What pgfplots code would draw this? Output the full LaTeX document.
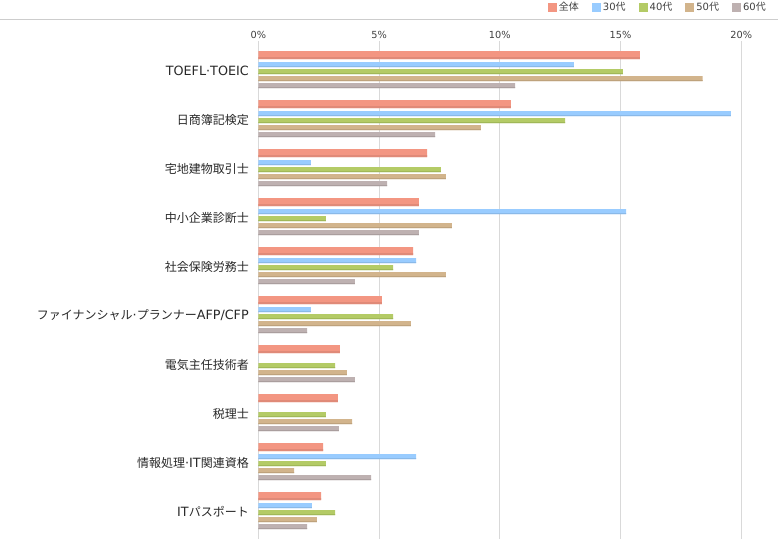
\documentclass[border=0pt]{standalone}
\usepackage{fontspec}
\setmainfont{Noto Sans CJK JP}
\newfontfamily\lat{DejaVu Sans}
\newcommand\lt[1]{{\lat\fontsize{12.75}{14}\selectfont #1}}
\usepackage{pgfplots}
\pgfplotsset{compat=1.18}
\usepackage{pgfplotstable}

\definecolor{cAll}{RGB}{243,150,130}
\definecolor{cAllD}{RGB}{224,138,120}
\definecolor{cA}{RGB}{153,204,255}
\definecolor{cAD}{RGB}{138,185,232}
\definecolor{cB}{RGB}{180,203,102}
\definecolor{cBD}{RGB}{160,184,88}
\definecolor{cC}{RGB}{210,180,140}
\definecolor{cCD}{RGB}{190,162,124}
\definecolor{cD}{RGB}{190,177,177}
\definecolor{cDD}{RGB}{170,158,158}
\definecolor{gridGray}{RGB}{217,217,217}
\definecolor{lineGray}{RGB}{205,205,205}
\definecolor{tickGray}{RGB}{64,64,64}
\definecolor{labelGray}{RGB}{40,40,40}

% b = top pixel row of the group's first bar
\pgfplotstableread{
b   all   s30   s40   s50   s60
51  15.80 13.07 15.10 18.40 10.63
100 10.46 19.57 12.70  9.22  7.32
149  6.99  2.18  7.56  7.77  5.33
198  6.65 15.23  2.80  8.02  6.65
247  6.41  6.53  5.58  7.77  4.00
296  5.12  2.18  5.58  6.32  2.02
345  3.38  0.00  3.18  3.67  4.00
394  3.30  0.00  2.80  3.88  3.34
443  2.68  6.53  2.80  1.48  4.67
492  2.60  2.22  3.18  2.43  2.02
}\data

\begin{document}
\begin{tikzpicture}[x=1pt,y=1pt]
\useasboundingbox (0,0) rectangle (778,539);
\draw[lineGray, line width=1pt] (0,519) -- (778,519);
\begin{axis}[
  at={(258.3pt,0pt)}, anchor=south west,
  scale only axis, width=483pt, height=498pt,
  xmin=0, xmax=20, ymin=41, ymax=539, y dir=reverse,
  axis line style={draw=none},
  xmajorgrids, grid style={color=gridGray, line width=1pt},
  xtick={0,5,10,15,20}, xticklabels={0\%,5\%,10\%,15\%,20\%},
  xticklabel pos=upper,
  ytick={70.5,119.5,168.5,217.5,266.5,315.5,364.5,413.5,462.5,511.5},
  yticklabels={\lt{TOEFL·TOEIC},日商簿記検定,宅地建物取引士,中小企業診断士,社会保険労務士,ファイナンシャル\lt{·}プランナー\lt{AFP/CFP},電気主任技術者,税理士,情報処理\lt{·IT}関連資格,\lt{IT}パスポート},
  major tick length=0pt, tick style={draw=none},
  xticklabel style={font=\lat\fontsize{9.75}{12}\selectfont, text=tickGray, yshift=-1pt},
  yticklabel style={font=\fontsize{12}{14}\selectfont, text=labelGray, xshift=-6pt},
  legend columns=-1,
  legend style={draw=none, fill=none, at={(1.0553,1.0823)}, anchor=north east,
    font=\fontsize{10}{12}\selectfont, inner sep=0pt,
    /tikz/every even column/.append style={column sep=11pt},
    nodes={inner sep=2pt, text=tickGray}},
  legend image code/.code={\path[#1] (0pt,-4.5pt) rectangle (9pt,4.5pt);},
]
\addplot[xbar, bar shift=0pt, bar width=8pt, fill=cAll, draw=none] table[x=all, y expr=\thisrow{b}+4] {\data};
\addlegendentry{全体}
\addplot[xbar, bar shift=0pt, bar width=5pt, fill=cA, draw=none] table[x=s30, y expr=\thisrow{b}+13.5] {\data};
\addlegendentry{{\lat 30}代}
\addplot[xbar, bar shift=0pt, bar width=5pt, fill=cB, draw=none] table[x=s40, y expr=\thisrow{b}+20.5] {\data};
\addlegendentry{{\lat 40}代}
\addplot[xbar, bar shift=0pt, bar width=5pt, fill=cC, draw=none] table[x=s50, y expr=\thisrow{b}+27.5] {\data};
\addlegendentry{{\lat 50}代}
\addplot[xbar, bar shift=0pt, bar width=5pt, fill=cD, draw=none] table[x=s60, y expr=\thisrow{b}+34.5] {\data};
\addlegendentry{{\lat 60}代}
% darker bottom edges
\addplot[forget plot, xbar, bar shift=0pt, bar width=2pt, fill=cAllD, draw=none] table[x=all, y expr=\thisrow{b}+7] {\data};
\addplot[forget plot, xbar, bar shift=0pt, bar width=1pt, fill=cAD, draw=none] table[x=s30, y expr=\thisrow{b}+15.5] {\data};
\addplot[forget plot, xbar, bar shift=0pt, bar width=1pt, fill=cBD, draw=none] table[x=s40, y expr=\thisrow{b}+22.5] {\data};
\addplot[forget plot, xbar, bar shift=0pt, bar width=1pt, fill=cCD, draw=none] table[x=s50, y expr=\thisrow{b}+29.5] {\data};
\addplot[forget plot, xbar, bar shift=0pt, bar width=1pt, fill=cDD, draw=none] table[x=s60, y expr=\thisrow{b}+36.5] {\data};
\end{axis}
\end{tikzpicture}
\end{document}
